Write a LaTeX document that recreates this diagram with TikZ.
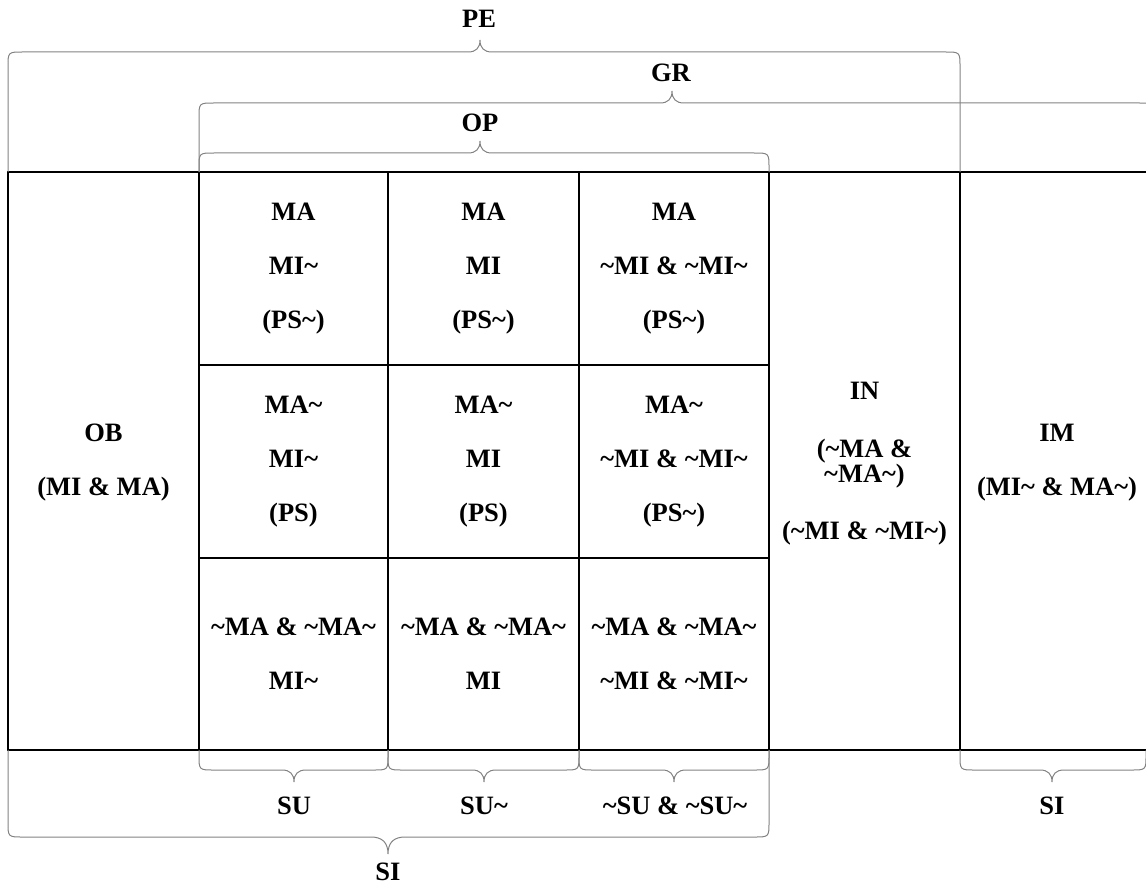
\documentclass[tikz,border=0pt]{standalone}
\usepackage{fontspec}
\setmainfont{Liberation Serif}
\definecolor{BraceG}{RGB}{130,130,130}
\newcommand{\tld}{\textasciitilde}
% x1, x2, tip x, line y, foot y, tip size
\newcommand{\BraceUp}[6]{\draw[brace](#1,#5)--(#1,#4+15) .. controls (#1,#4) .. (#1+15,#4)--(#3-#6,#4) .. controls (#3-#6/3,#4) and (#3,#4-#6/3) .. (#3,#4-#6) .. controls (#3,#4-#6/3) and (#3+#6/3,#4) .. (#3+#6,#4)--(#2-15,#4) .. controls (#2,#4) .. (#2,#4+15)--(#2,#5);}
\newcommand{\BraceDown}[6]{\draw[brace](#1,#5)--(#1,#4-15) .. controls (#1,#4) .. (#1+15,#4)--(#3-#6,#4) .. controls (#3-#6/3,#4) and (#3,#4+#6/3) .. (#3,#4+#6) .. controls (#3,#4+#6/3) and (#3+#6/3,#4) .. (#3+#6,#4)--(#2-15,#4) .. controls (#2,#4) .. (#2,#4-15)--(#2,#5);}

\begin{document}
\begin{tikzpicture}[x=1pt,y=-1pt,
  grid/.style={black,line width=1.3pt},
  brace/.style={BraceG,line width=1pt},
  txt/.style={font=\fontsize{26.5}{54}\selectfont\bfseries,align=center,inner sep=0pt},
  lbl/.style={font=\fontsize{26.5}{30}\selectfont\bfseries,anchor=base,inner sep=0pt}]
\useasboundingbox (0,0) rectangle (1146,888);
% grid
\draw[grid](8,172)rectangle(1154,750);
\foreach \x in {199,388,579,769,960}\draw[grid](\x,172)--(\x,750);
\draw[grid](199,365)--(769,365)(199,558)--(769,558);
% columns
\node[txt](ob)at(103.5,463){OB\\(MI \& MA)};
\node[txt](in)at(864.5,464){IN\\[4pt](\tld MA \&\\[-29pt]\tld MA\tld)\\[3pt](\tld MI \& \tld MI\tld)};
\node[txt](im)at(1057,463){IM\\(MI\tld{} \& MA\tld)};
% cells
\node[txt](c11)at(293.5,268.5){MA\\MI\tld\\(PS\tld)};
\node[txt](c12)at(483.5,268.5){MA\\MI\\(PS\tld)};
\node[txt](c13)at(674,268.5){MA\\\tld MI \& \tld MI\tld\\(PS\tld)};
\node[txt](c21)at(293.5,461.5){MA\tld\\MI\tld\\(PS)};
\node[txt](c22)at(483.5,461.5){MA\tld\\MI\\(PS)};
\node[txt](c23)at(674,461.5){MA\tld\\\tld MI \& \tld MI\tld\\(PS\tld)};
\node[txt](c31)at(293.5,654){\tld MA \& \tld MA\tld\\MI\tld};
\node[txt](c32)at(483.5,654){\tld MA \& \tld MA\tld\\MI};
\node[txt](c33)at(674,654){\tld MA \& \tld MA\tld\\\tld MI \& \tld MI\tld};
% braces above
\BraceUp{8}{960}{480}{52}{172}{12}
\BraceUp{199}{1154}{672}{103}{172}{12}
\BraceUp{199}{769}{480}{153}{172}{12}
\node[lbl](pe)at(479,28){PE};
\node[lbl](gr)at(671,82){GR};
\node[lbl](op)at(480,132){OP};
% braces below
\BraceDown{199}{388}{294}{770}{750}{12}
\BraceDown{388}{579}{484}{770}{750}{12}
\BraceDown{579}{769}{674}{770}{750}{12}
\BraceDown{960}{1146}{1052}{770}{750}{12}
\BraceDown{8}{769}{388}{837}{750}{17}
\node[lbl](su)at(294,814){SU};
\node[lbl](sut)at(484,814){SU\tld};
\node[lbl](susu)at(675,814){\tld SU \& \tld SU\tld};
\node[lbl](sir)at(1052,814){SI};
\node[lbl](si)at(388,880){SI};
\end{tikzpicture}
\end{document}
